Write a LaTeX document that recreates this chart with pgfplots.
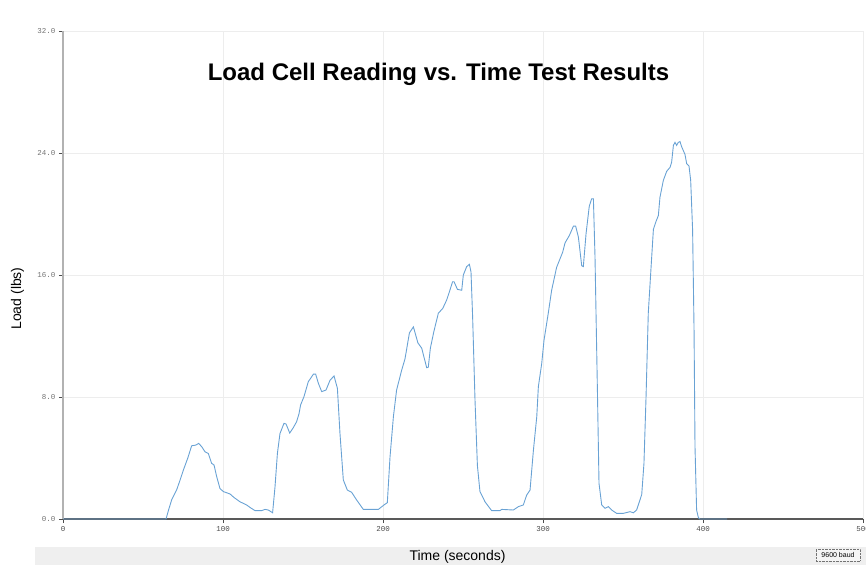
\documentclass[border=0pt]{standalone}
\usepackage{fontspec}
\setmainfont{Liberation Sans}
\newfontfamily\monofont{Liberation Mono}
\usepackage{pgfplots}
\pgfplotsset{compat=1.18}
\definecolor{linec}{RGB}{105,162,212}
\definecolor{bandc}{RGB}{239,239,239}
\begin{document}
\begin{tikzpicture}
\begin{axis}[
  scale only axis, width=800pt, height=488pt,
  xmin=0, xmax=500, ymin=0, ymax=32,
  xtick={0,100,200,300,400,500},
  ytick={0,8,16,24,32},
  axis lines=left,
  x axis line style={-, draw=black!65, line width=1.1pt},
  y axis line style={-, draw=black!30, line width=2pt},
  tick align=outside, major tick length=4pt,
  tick style={draw=black!70, line width=0.8pt},
  grid=major, major grid style={draw=black!7, line width=0.6pt},
  /pgf/number format/assume math mode=true,
  yticklabel={\pgfmathprintnumber[fixed,fixed zerofill,precision=1]{\tick}},
  xticklabel={\pgfmathprintnumber[fixed,precision=0]{\tick}},
  yticklabel style={font=\monofont\fontsize{7.5}{8}\selectfont, text=black!55},
  xticklabel style={font=\monofont\fontsize{7.5}{8}\selectfont, text=black!70},
]
\addplot[linec, line width=0.9pt, mark=none] coordinates {
(0,0) (64.4,0) (66,0.6) (67.9,1.25) (71.0,1.9) (73,2.5) (75.2,3.2) (78,4.0)
(80.4,4.8) (83.1,4.85) (84.8,4.96) (86.7,4.74) (88.75,4.41) (90.8,4.3)
(92.9,3.65) (94.4,3.54) (96,2.8) (98.1,2.0) (100.2,1.8) (104.4,1.64)
(107,1.4) (110.6,1.13) (114.8,0.92) (117,0.75) (120,0.55) (124.2,0.55)
(126.25,0.63) (128.3,0.59) (131,0.41) (132.5,2.1) (134,4.3) (135.6,5.6)
(138.1,6.27) (139.4,6.23) (141.7,5.64) (144,6.0) (146,6.38) (147.5,6.9)
(148.5,7.48) (150.6,8.02) (153.3,9.0) (156.5,9.5) (157.9,9.5) (159.6,8.9)
(161.7,8.35) (164.4,8.46) (166.9,9.1) (169.4,9.38) (171.5,8.57) (173.1,5.62)
(175.2,2.56) (177.7,1.9) (180.4,1.75) (183.5,1.25) (187.7,0.63) (197.1,0.63)
(200.6,0.92) (202.7,1.07) (204.4,4.09) (206.5,6.71) (208.5,8.46) (211.7,9.77)
(213.75,10.5) (216.5,12.2) (219,12.6) (221.8,11.55) (224.2,11.2) (227.3,9.92)
(228.3,9.95) (229.6,11.2) (231.8,12.3) (234.6,13.5) (237.3,13.8) (239.8,14.36)
(241.5,14.9) (243.5,15.56) (244.4,15.56) (246.5,15.06) (249.2,15.0) (250.2,16.0)
(252.3,16.55) (254,16.7) (255,16.2) (256,13.3) (257.5,7.8) (259,3.5)
(260.6,1.8) (263.75,1.13) (267.9,0.55) (273.1,0.55) (274.2,0.63) (281.5,0.59)
(284.6,0.81) (287.7,0.92) (289.8,1.57) (291.9,1.9) (294,4.5) (296.1,6.71)
(297.1,8.68) (299.2,10.2) (300.6,11.7) (303.3,13.5) (305.4,15.0) (308.5,16.5)
(312.3,17.5) (313.75,18.1) (316.5,18.6) (319,19.2) (320.4,19.2) (322.1,18.5)
(324.2,16.6) (325.2,16.55) (326.9,18.7) (328.9,20.5) (330.4,21.0) (331.5,21.0)
(332.5,17.2) (334,8.46) (335,2.34) (336.7,0.92) (338.75,0.7) (340.8,0.81)
(342.9,0.59) (346,0.37) (350.2,0.37) (354.4,0.48) (356.5,0.41) (358.5,0.59)
(360.6,1.25) (361.7,1.6) (363.1,3.65) (364.4,8.02) (365.8,13.5) (367.3,16.1)
(369,19.0) (370.6,19.5) (372.1,19.9) (373.1,21.1) (375.2,22.2) (377.3,22.8)
(379.4,23.06) (380.4,23.4) (381.5,24.5) (382.5,24.7) (383.5,24.5) (384.6,24.7)
(385.6,24.75) (386.7,24.4) (388.75,23.9) (389.8,23.3) (391.25,23.15) (392.3,22.2)
(393.5,18.95) (394.4,12.4) (395,4.74) (396,0.59) (397.1,0.1) (398,0) (415,0)
};
\end{axis}
% bottom band and labels
\fill[bandc] (-28pt,-46pt) rectangle (803pt,-28pt);
\node[font=\fontsize{14}{16}\selectfont] at (394.5pt,-38pt) {Time (seconds)};
\node[rotate=90, font=\fontsize{14}{16}\selectfont] at (-45.5pt,220.5pt) {Load (lbs)};
\node[font=\bfseries\fontsize{24}{28}\selectfont] at (375.5pt,445pt) {Load Cell Reading vs. Time Test Results};
\node[draw=black!55, densely dotted, fill=black!4, inner sep=1.5pt, minimum width=44pt, minimum height=12pt,
      font=\fontsize{7}{8}\selectfont] at (775pt,-36pt) {9600 baud};
\pgfresetboundingbox
\useasboundingbox (-63pt,-48pt) rectangle (803pt,519pt);
\end{tikzpicture}
\end{document}
